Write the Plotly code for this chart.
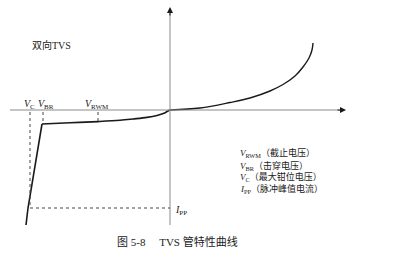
import plotly.graph_objects as go

# ---- data (V: voltage units, I: current units; origin at 0,0) ----
steep_v = [-14.4, -14.2, -12.8]
steep_i = [-11.5, -9.8, -1.4]
rev_v = [-12.8, -10.0, -7.2, -5.0, -3.7, -2.3, -1.3, -0.6, -0.2, 0.0]
rev_i = [-1.4, -1.28, -1.16, -1.03, -0.9, -0.74, -0.55, -0.33, -0.1, 0.0]
fwd_v = [0.0, 3.0, 6.0, 8.0, 10.0, 11.3, 12.5, 13.3, 13.9, 14.2, 14.3]
fwd_i = [0.0, 0.2, 0.75, 1.2, 1.9, 2.55, 3.4, 4.3, 5.2, 6.0, 6.7]

V_C = -14.0
V_BR = -12.7
V_RWM = -7.2
I_PP = -9.8
I_BR = -1.4
I_RWM = -1.16

mark_labels = ["<i>V</i><sub>C</sub>", "<i>V</i><sub>BR</sub>", "<i>V</i><sub>RWM</sub>"]
mark_pos = [-14.1, -12.4, -7.3]

legend_lines = [
    "<i>V</i><sub>RWM</sub>（截止电压）",
    "<i>V</i><sub>BR</sub>（击穿电压）",
    "<i>V</i><sub>C</sub>（最大钳位电压）",
    "<i>I</i><sub>PP</sub>（脉冲峰值电流）",
]
legend_y = [-4.3, -5.6, -6.7, -7.9]

title_text = "双向TVS"
caption = "图 5-8　 TVS 管特性曲线"

FONT = "Liberation Serif, Noto Sans CJK SC, serif"
AX = "#8a8a8a"
INK = "#1a1a1a"

fig = go.Figure()
fig.add_trace(go.Scatter(x=steep_v, y=steep_i, mode="lines",
                         line=dict(color=INK, width=1.6), hoverinfo="skip"))
fig.add_trace(go.Scatter(x=rev_v, y=rev_i, mode="lines", line_shape="spline",
                         line=dict(color=INK, width=1.6), hoverinfo="skip"))
fig.add_trace(go.Scatter(x=fwd_v, y=fwd_i, mode="lines", line_shape="spline",
                         line=dict(color=INK, width=1.4), hoverinfo="skip"))

shapes = []
# axes
shapes.append(dict(type="line", xref="x", yref="y", x0=-16.0, x1=17.2, y0=0, y1=0,
                   line=dict(color=AX, width=1)))
shapes.append(dict(type="line", xref="x", yref="y", x0=0, x1=0, y0=-11.5, y1=9.9,
                   line=dict(color=AX, width=1)))
# dashed guides
dash = dict(color="#444", width=1, dash="3px,3px")
shapes.append(dict(type="line", xref="x", yref="y", x0=V_C, x1=V_C, y0=-0.2, y1=I_PP, line=dash))
shapes.append(dict(type="line", xref="x", yref="y", x0=V_BR, x1=V_BR, y0=-0.2, y1=I_BR, line=dash))
shapes.append(dict(type="line", xref="x", yref="y", x0=V_RWM, x1=V_RWM, y0=-0.2, y1=I_RWM, line=dash))
shapes.append(dict(type="line", xref="x", yref="y", x0=V_C, x1=0, y0=I_PP, y1=I_PP, line=dash))

ann = []
# arrow heads
ann.append(dict(x=17.6, y=0, ax=16.6, ay=0, xref="x", yref="y", axref="x", ayref="y",
                showarrow=True, arrowhead=2, arrowsize=1.2, arrowwidth=1, arrowcolor=INK, text=""))
ann.append(dict(x=0, y=10.3, ax=0, ay=9.3, xref="x", yref="y", axref="x", ayref="y",
                showarrow=True, arrowhead=2, arrowsize=1.2, arrowwidth=1, arrowcolor=INK, text=""))
for t, p in zip(mark_labels, mark_pos):
    ann.append(dict(x=p, y=0.6, xref="x", yref="y", text=t, showarrow=False,
                    font=dict(family=FONT, size=10, color=INK), xanchor="center", yanchor="middle"))
for t, yy in zip(legend_lines, legend_y):
    ann.append(dict(x=6.8, y=yy, xref="x", yref="y", text=t, showarrow=False,
                    font=dict(family=FONT, size=9, color=INK), xanchor="left", yanchor="middle"))
ann.append(dict(x=0.3, y=-10.0, xref="x", yref="y", text="<i>I</i><sub>PP</sub>", showarrow=False,
                font=dict(family=FONT, size=10, color=INK), xanchor="left", yanchor="middle"))
ann.append(dict(x=-11.9, y=6.5, xref="x", yref="y", text=title_text, showarrow=False,
                font=dict(family=FONT, size=10, color=INK), xanchor="center", yanchor="middle"))
ann.append(dict(x=0.7, y=-13.1, xref="x", yref="y", text=caption, showarrow=False,
                font=dict(family=FONT, size=11, color=INK), xanchor="center", yanchor="middle"))

fig.update_layout(
    width=396, height=258, margin=dict(l=0, r=0, t=0, b=0),
    paper_bgcolor="white", plot_bgcolor="white", showlegend=False,
    xaxis=dict(range=[-17.0, 22.6], visible=False, fixedrange=True),
    yaxis=dict(range=[-14.8, 11.0], visible=False, fixedrange=True),
    shapes=shapes, annotations=ann,
)
fig.write_html("out.html", config={"displayModeBar": False})
